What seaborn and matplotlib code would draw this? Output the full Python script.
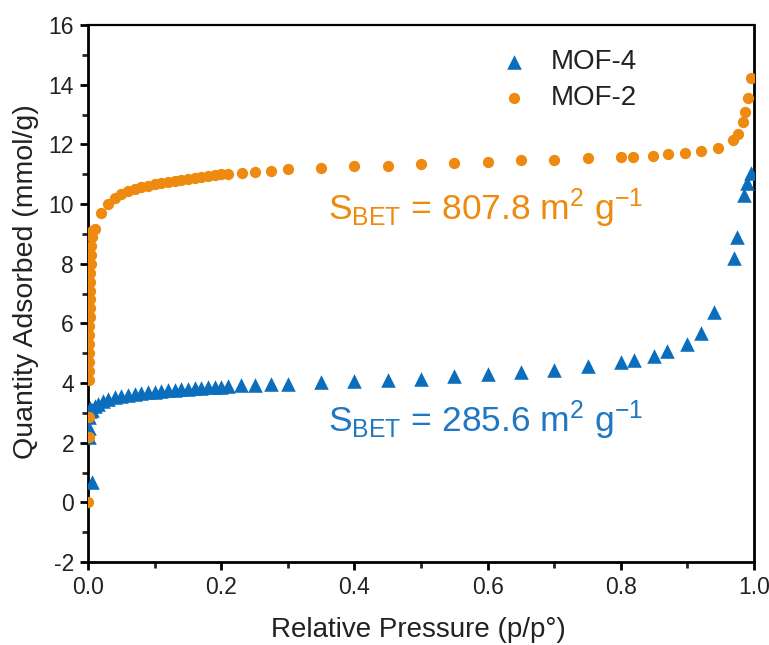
import matplotlib
matplotlib.use("Agg")
import matplotlib.pyplot as plt
from matplotlib.ticker import MultipleLocator
import seaborn as sns
import pandas as pd

# N2 isotherm data: relative pressure vs. quantity adsorbed (mmol/g)
mof2_p = [0.0005, 0.001, 0.0015,
          0.001, 0.0012, 0.0014, 0.0016, 0.0018, 0.002, 0.0022, 0.0024, 0.0026,
          0.0028, 0.003, 0.0033, 0.0036, 0.004, 0.0045, 0.005, 0.0055, 0.006,
          0.0105, 0.019, 0.03, 0.04, 0.05, 0.06, 0.07, 0.08, 0.09, 0.10, 0.11,
          0.12, 0.13, 0.14, 0.15, 0.16, 0.17, 0.18, 0.19, 0.20, 0.21, 0.231,
          0.25, 0.275, 0.30, 0.35, 0.40, 0.45, 0.50, 0.55, 0.60, 0.65, 0.70,
          0.75, 0.80, 0.818, 0.848, 0.871, 0.896, 0.921, 0.946, 0.969, 0.976,
          0.983, 0.987, 0.991, 0.995]
mof2_q = [0.02, 2.2, 2.85,
          4.1, 4.4, 4.7, 5.0, 5.3, 5.6, 5.9, 6.2, 6.5,
          6.8, 7.1, 7.4, 7.7, 8.0, 8.3, 8.6, 8.9, 9.1,
          9.17, 9.7, 10.0, 10.2, 10.33, 10.43, 10.5, 10.56, 10.61, 10.66, 10.7,
          10.74, 10.77, 10.8, 10.83, 10.86, 10.9, 10.93, 10.96, 10.99, 11.02, 11.04,
          11.08, 11.12, 11.16, 11.2, 11.26, 11.29, 11.35, 11.39, 11.42, 11.46, 11.49,
          11.53, 11.57, 11.59, 11.62, 11.66, 11.7, 11.77, 11.88, 12.13, 12.35,
          12.74, 13.1, 13.54, 14.23]

mof4_p = [0.0055, 0.001, 0.0015, 0.002, 0.0025, 0.003, 0.006, 0.01, 0.015,
          0.023, 0.03, 0.04, 0.05, 0.06, 0.07, 0.08, 0.09, 0.10, 0.11, 0.12,
          0.13, 0.14, 0.15, 0.16, 0.17, 0.18, 0.19, 0.20, 0.21, 0.23, 0.25,
          0.275, 0.30, 0.35, 0.40, 0.45, 0.50, 0.55, 0.60, 0.65, 0.70, 0.75,
          0.80, 0.82, 0.85, 0.87, 0.90, 0.92, 0.94, 0.97, 0.975, 0.985, 0.99,
          0.995]
mof4_q = [0.68, 2.2, 2.5, 2.85, 3.05, 3.15, 3.1, 3.22, 3.3,
          3.4, 3.46, 3.52, 3.56, 3.6, 3.63, 3.66, 3.69, 3.71, 3.73, 3.75,
          3.77, 3.79, 3.8, 3.82, 3.84, 3.85, 3.87, 3.88, 3.9, 3.92, 3.93,
          3.95, 3.98, 4.02, 4.06, 4.1, 4.15, 4.22, 4.29, 4.36, 4.45, 4.56,
          4.69, 4.76, 4.89, 5.07, 5.32, 5.67, 6.38, 8.2, 8.88, 10.3, 10.7,
          11.05]

series_names = ["MOF-4", "MOF-2"]
colors = {"MOF-4": "#0a6ebd", "MOF-2": "#ef8a10"}
sbet_labels = {"MOF-2": "807.8", "MOF-4": "285.6"}

df = pd.concat([
    pd.DataFrame({"p": mof4_p, "q": mof4_q, "sample": "MOF-4"}),
    pd.DataFrame({"p": mof2_p, "q": mof2_q, "sample": "MOF-2"}),
], ignore_index=True)

sns.set_theme(style="ticks")
plt.rcParams["font.family"] = ["Liberation Sans", "DejaVu Sans"]
plt.rcParams["mathtext.fontset"] = "custom"
plt.rcParams["mathtext.rm"] = "Liberation Sans"
plt.rcParams["mathtext.it"] = "Liberation Sans:italic"
plt.rcParams["axes.unicode_minus"] = False

fig = plt.figure(figsize=(7.69, 6.45), dpi=100)
ax = fig.add_axes([88 / 769, 83 / 645, 666 / 769, 537 / 645])

sns.scatterplot(data=df[df["sample"] == "MOF-4"], x="p", y="q", marker="^",
                color=colors["MOF-4"], s=110, linewidth=0, ax=ax, label="MOF-4",
                zorder=3)
sns.scatterplot(data=df[df["sample"] == "MOF-2"], x="p", y="q", marker="o",
                color=colors["MOF-2"], s=66, linewidth=0, ax=ax, label="MOF-2",
                zorder=4)

ax.set_xlim(0, 1.0)
ax.set_ylim(-2, 16)
ax.xaxis.set_minor_locator(MultipleLocator(0.1))
ax.yaxis.set_major_locator(MultipleLocator(2))
ax.yaxis.set_minor_locator(MultipleLocator(1))
ax.set_xticks([0.0, 0.2, 0.4, 0.6, 0.8, 1.0])
ax.set_xticklabels(["0.0", "0.2", "0.4", "0.6", "0.8", "1.0"])

for side in ["left", "bottom", "right", "top"]:
    ax.spines[side].set_visible(True)
    ax.spines[side].set_color("black")
    ax.spines[side].set_linewidth(2.0)
ax.spines["top"].set_linewidth(1.6)
ax.tick_params(which="major", direction="out", length=6, width=2.0,
               labelsize=16.5, colors="black", pad=4)
ax.tick_params(which="minor", direction="out", length=4, width=2.0)
ax.tick_params(labelcolor="#222222")

ax.set_xlabel("Relative Pressure (p/p°)", fontsize=20, color="#222222")
ax.set_ylabel("Quantity Adsorbed (mmol/g)", fontsize=20.5, color="#222222")
ax.xaxis.set_label_coords(0.496, -0.102)
ax.yaxis.set_label_coords(-0.074, 0.523)

ax.text(0.36, 9.85, r"S$_{\mathrm{BET}}$ = " + sbet_labels["MOF-2"] + r" m$^{2}$ g$^{-1}$",
        color=colors["MOF-2"], fontsize=25.5, va="center", ha="left")
ax.text(0.36, 2.75, r"S$_{\mathrm{BET}}$ = " + sbet_labels["MOF-4"] + r" m$^{2}$ g$^{-1}$",
        color="#1f78c1", fontsize=25.5, va="center", ha="left")

leg = ax.legend(loc="upper left", bbox_to_anchor=(0.586, 0.996), frameon=False,
                fontsize=20, handlelength=1.0, handletextpad=0.8,
                labelspacing=0.35, borderpad=0.3, markerscale=1.0)
for t in leg.get_texts():
    t.set_color("#222222")

fig.savefig("out.png", dpi=100)
